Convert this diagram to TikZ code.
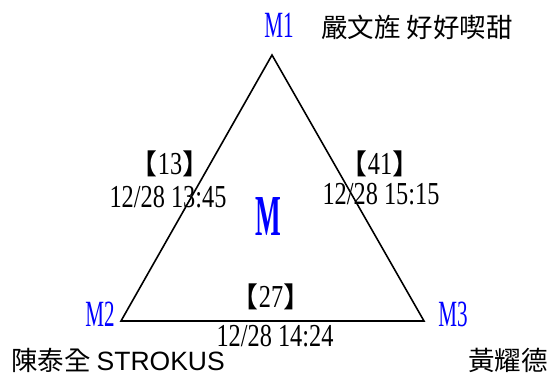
\documentclass[tikz,border=0pt]{standalone}
\usepackage{fontspec}
\usepackage{tikz}
\newfontfamily\narrowserif[FakeStretch=0.76]{Liberation Serif}
\newfontfamily\vtxserif[FakeStretch=0.57]{Liberation Serif}
\newfontfamily\bigserif[FakeStretch=0.47]{Liberation Serif}
\newfontfamily\cjk{Noto Sans CJK TC}
\newfontfamily\arialfont{Liberation Sans}
\definecolor{vtxblue}{RGB}{0,0,255}
\tikzset{
  vtx/.style={text=vtxblue, font=\vtxserif\fontsize{37}{37}\selectfont, inner sep=0pt},
  edgelab/.style={font=\narrowserif\fontsize{32}{32}\selectfont, inner sep=0pt},
  who/.style={font=\cjk\fontsize{26.5}{26.5}\selectfont, inner sep=0pt}
}
\newcommand{\lbr}{\makebox[17pt][r]{\cjk\fontsize{28}{28}\selectfont 【}}
\newcommand{\rbr}{\makebox[17pt][l]{\cjk\fontsize{28}{28}\selectfont 】}}
\begin{document}
\begin{tikzpicture}[x=1pt, y=-1pt]
    \useasboundingbox (0,0) rectangle (549,376);
    % corners of the triangle
    \coordinate (m1) at (272,55);
    \coordinate (m2) at (121,321);
    \coordinate (m3) at (424,321);
    \draw [line width=1.6pt, line join=miter] (m1) -- (m2) -- (m3) -- cycle;
    % vertex labels
    \node [vtx] (lab1) at (279,25) {M1};
    \node [vtx] (lab2) at (100,314) {M2};
    \node [vtx] (lab3) at (453,314) {M3};
    \node [vtx, font=\bigserif\bfseries\fontsize{58}{58}\selectfont] (labm) at (268,217) {M};
    % edge labels
    \node [edgelab] (c12) at (170,164) {\lbr 13\rbr};
    \node [edgelab] (t12) at (168,197) {12/28 13:45};
    \node [edgelab] (c13) at (380,164) {\lbr 41\rbr};
    \node [edgelab] (t13) at (381,194) {12/28 15:15};
    \node [edgelab] (c23) at (271,297) {\lbr 27\rbr};
    \node [edgelab] (t23) at (275,336) {12/28 14:24};
    % names
    \node [who, anchor=west] (name1) at (321,27) {嚴文旌 好好喫甜};
    \node [who, anchor=west] (name2) at (11,360) {陳泰全 {\arialfont STROKUS}};
    \node [who, anchor=east] (name3) at (548,360) {黃耀德};
\end{tikzpicture}
\end{document}
